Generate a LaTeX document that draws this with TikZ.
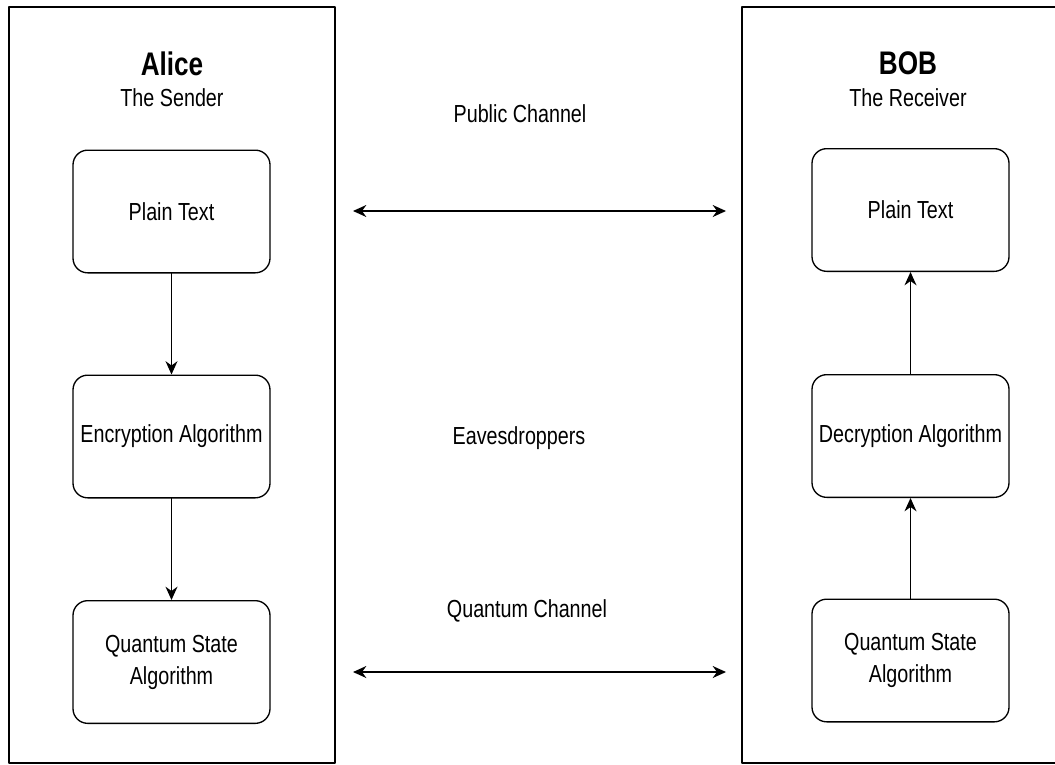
\documentclass[tikz,border=0pt]{standalone}
\usepackage{fontspec}
\setmainfont{Liberation Sans}[FakeStretch=0.8]
\usetikzlibrary{arrows.meta}
\begin{document}
\begin{tikzpicture}[x=0.75pt, y=-0.75pt, font=\fontsize{18.5}{24}\selectfont, line join=round, line cap=round, >={Stealth[length=10pt,width=9pt]}]
	\tikzset{
		stagebox/.style={draw, line width=1pt, rounded corners=11pt, minimum width=147.75pt, minimum height=92pt, align=center, inner sep=2pt},
		party/.style={font=\fontsize{24.5}{28}\selectfont\bfseries, anchor=base},
		role/.style={anchor=base},
		flow/.style={->, line width=1pt},
		channel/.style={<->, line width=1pt}
	}
	\useasboundingbox (0,0) rectangle (1055,764);
	% the two parties
	\draw[line width=1pt] (9,7) rectangle (335,763);
	\draw[line width=1pt] (1060,7) -- (742,7) -- (742,763) -- (1060,763);
	\node[party] (alice) at (172,75) {Alice};
	\node[role] (sender) at (172,106) {The Sender};
	\node[party] (bob) at (908,74) {BOB};
	\node[role] (receiver) at (908,106) {The Receiver};
	% Alice's side
	\node[stagebox] (lplain) at (171.5,211.5) {Plain Text};
	\node[stagebox] (lenc) at (171.5,436.5) {Encryption Algorithm};
	\node[stagebox] (lqs) at (171.5,662) {Quantum State\\Algorithm};
	\draw[flow] (lplain) -- (lenc);
	\draw[flow] (lenc) -- (lqs);
	% Bob's side
	\node[stagebox] (rplain) at (910.5,210) {Plain Text};
	\node[stagebox] (rdec) at (910.5,436) {Decryption Algorithm};
	\node[stagebox] (rqs) at (910.5,660.5) {Quantum State\\Algorithm};
	\draw[flow] (rqs) -- (rdec);
	\draw[flow] (rdec) -- (rplain);
	% channels
	\node[role] (pub) at (520,122) {Public Channel};
	\node[role] (eve) at (519,444) {Eavesdroppers};
	\node[role] (qch) at (527,617) {Quantum Channel};
	\coordinate (pubL) at (353,211);
	\coordinate (pubR) at (726,211);
	\coordinate (qchL) at (353,672);
	\coordinate (qchR) at (726,672);
	\draw[channel] (pubL) -- (pubR);
	\draw[channel] (qchL) -- (qchR);
\end{tikzpicture}
\end{document}
